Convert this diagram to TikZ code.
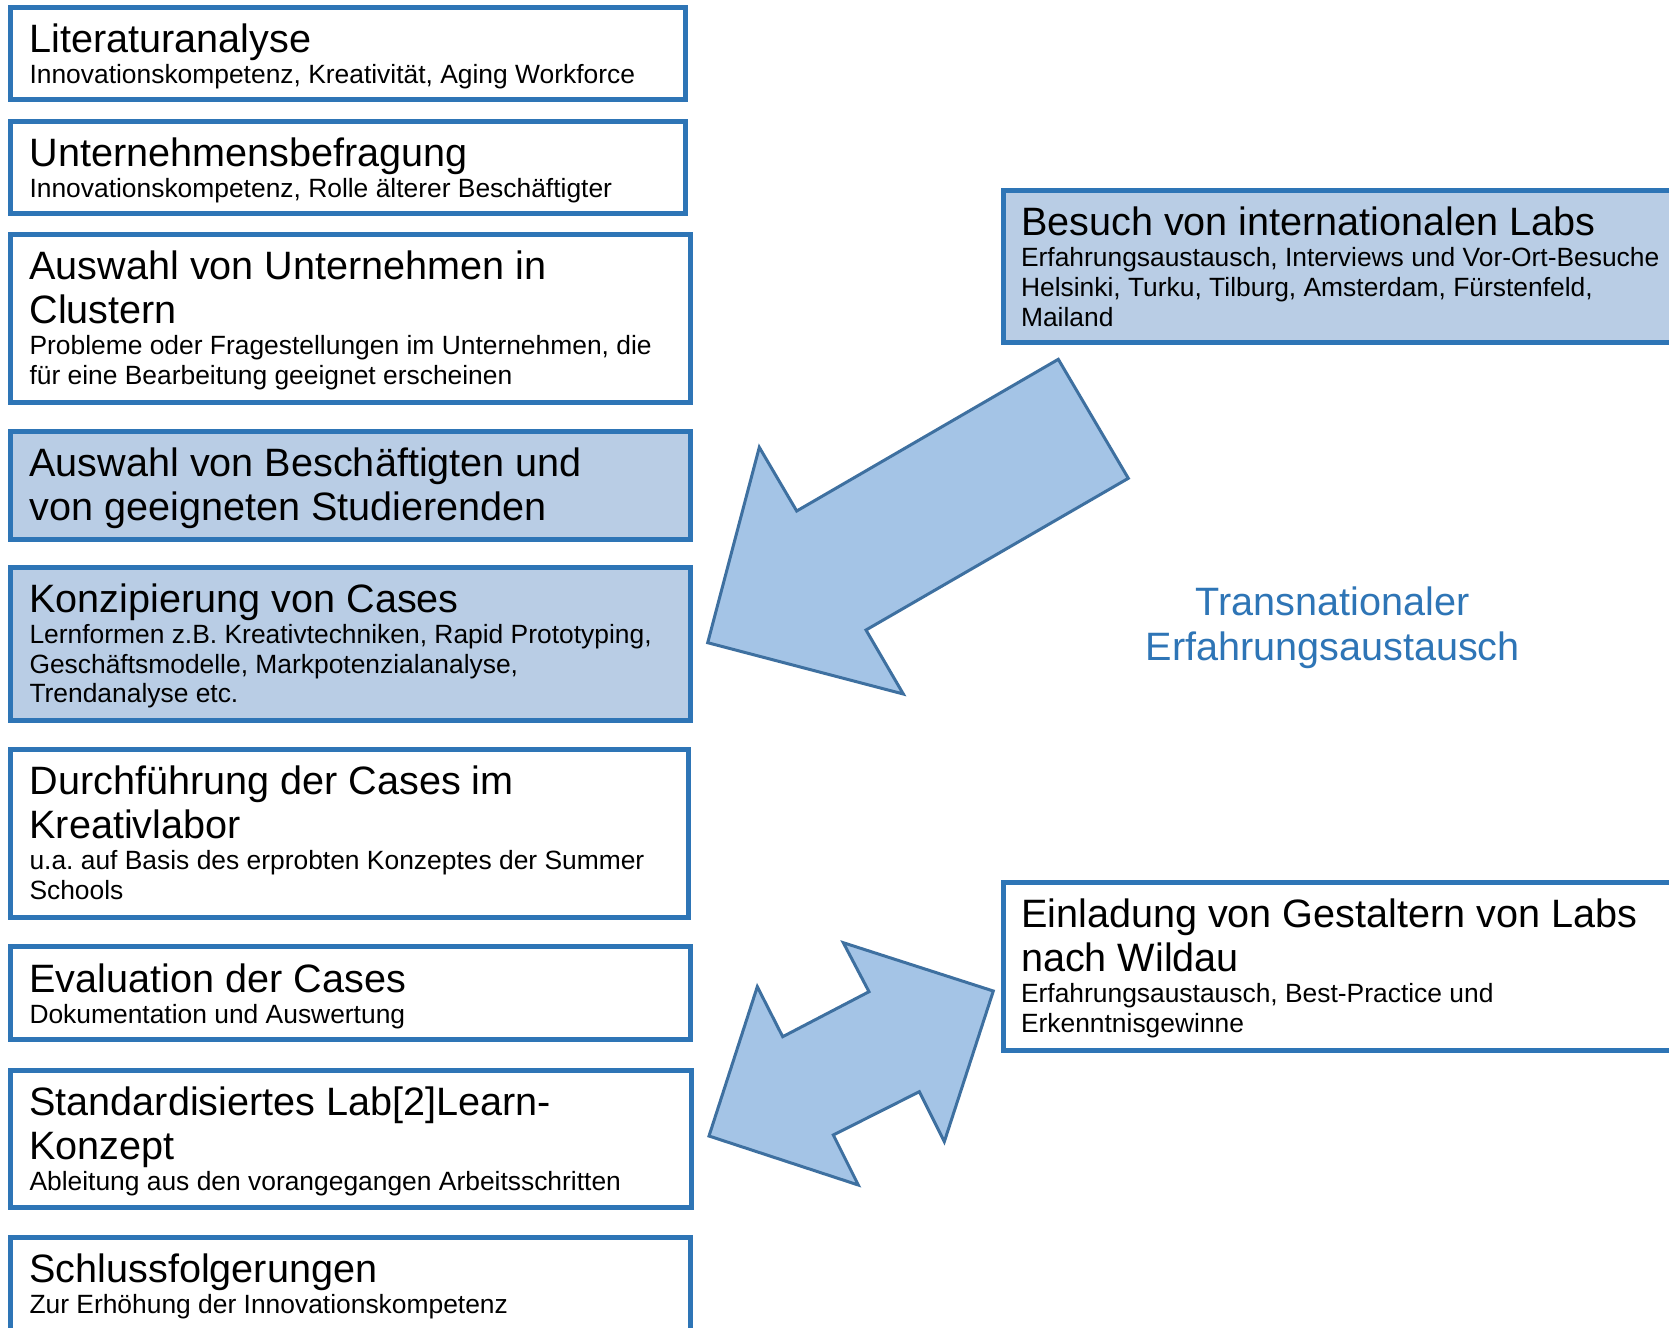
\documentclass[tikz,border=0pt]{standalone}
\usepackage{fontspec}
\setmainfont{Liberation Sans}
\frenchspacing
\usetikzlibrary{calc}
\definecolor{bord}{RGB}{46,117,182}
\definecolor{lfill}{RGB}{185,205,229}
\definecolor{afill}{RGB}{164,196,230}
\definecolor{aline}{RGB}{62,112,160}
\definecolor{ttl}{RGB}{46,117,182}
\newcommand{\mytitlefont}{\fontsize{39.6}{44}\selectfont\frenchspacing\spaceskip=0pt\xspaceskip=0pt\relax}
\newcommand{\mysubfont}{\fontsize{26.4}{29.6}\selectfont\frenchspacing\spaceskip=0pt\xspaceskip=0pt\relax}
\newcommand{\boxtitle}[1]{{\mytitlefont\rule{0pt}{30pt}#1\par}}
\newcommand{\boxsub}[1]{\vspace{1.4pt}{\mysubfont #1\par}}
\tikzset{
  box/.style={draw=bord, line width=5pt, fill=white, anchor=north west, inner sep=0pt, outer sep=0pt},
  filledbox/.style={box, fill=lfill},
  boxtext/.style={anchor=north west, inner sep=0pt, outer sep=0pt, text width=670pt, align=left},
  rboxtext/.style={boxtext, text width=700pt},
  bigarrow/.style={draw=aline, line width=3pt, fill=afill, line join=miter},
}
\begin{document}
\begin{tikzpicture}[x=1pt, y=-1pt]
\path[use as bounding box, clip] (0,0) rectangle (1669,1327);
\fill[white] (0,0) rectangle (1669,1327);

% left column boxes
\node[box, minimum width=675.1pt, minimum height=91.9pt] (b1) at (10,7.8) {};
\node[box, minimum width=675.1pt, minimum height=91.9pt] (b2) at (10,121.7) {};
\node[box, minimum width=680.5pt, minimum height=167.5pt] (b3) at (10,234.5) {};
\node[filledbox, minimum width=680.5pt, minimum height=107.8pt] (b4) at (10,431.5) {};
\node[filledbox, minimum width=680.5pt, minimum height=152.5pt] (b5) at (10,567.7) {};
\node[box, minimum width=678.3pt, minimum height=167.4pt] (b6) at (10,749.7) {};
\node[box, minimum width=680.5pt, minimum height=92.9pt] (b7) at (10,946.6) {};
\node[box, minimum width=681.5pt, minimum height=137.6pt] (b8) at (10,1070.1) {};
\node[box, minimum width=680.5pt, minimum height=130pt] (b9) at (10,1237.4) {};

% right boxes
\node[filledbox, minimum width=720pt, minimum height=151.5pt] (ra) at (1003,190.9) {};
\node[box, minimum width=720pt, minimum height=167.4pt] (rb) at (1003,882.8) {};

% texts
\node[boxtext] (t1) at ($(b1.north west)+(19.5,15)$) {\boxtitle{Literaturanalyse}\boxsub{Innovationskompetenz, Kreativität, Aging Workforce}};
\node[boxtext] (t2) at ($(b2.north west)+(19.5,15)$) {\boxtitle{Unternehmensbefragung}\boxsub{Innovationskompetenz, Rolle älterer Beschäftigter}};
\node[boxtext] (t3) at ($(b3.north west)+(19.5,15)$) {\boxtitle{Auswahl von Unternehmen in\\Clustern}\boxsub{Probleme oder Fragestellungen im Unternehmen, die\\für eine Bearbeitung geeignet erscheinen}};
\node[boxtext] (t4) at ($(b4.north west)+(19.5,15)$) {\boxtitle{Auswahl von Beschäftigten und\\von geeigneten Studierenden}};
\node[boxtext] (t5) at ($(b5.north west)+(19.5,15)$) {\boxtitle{Konzipierung von Cases}\boxsub{Lernformen z.B. Kreativtechniken, Rapid Prototyping,\\Geschäftsmodelle, Markpotenzialanalyse,\\Trendanalyse etc.}};
\node[boxtext] (t6) at ($(b6.north west)+(19.5,15)$) {\boxtitle{Durchführung der Cases im\\Kreativlabor}\boxsub{u.a. auf Basis des erprobten Konzeptes der Summer\\Schools}};
\node[boxtext] (t7) at ($(b7.north west)+(19.5,16)$) {\boxtitle{Evaluation der Cases}\boxsub{Dokumentation und Auswertung}};
\node[boxtext] (t8) at ($(b8.north west)+(19.5,15)$) {\boxtitle{Standardisiertes Lab[2]Learn-\\Konzept}\boxsub{Ableitung aus den vorangegangen Arbeitsschritten}};
\node[boxtext] (t9) at ($(b9.north west)+(19.5,15)$) {\boxtitle{Schlussfolgerungen}\boxsub{Zur Erhöhung der Innovationskompetenz}};
\node[rboxtext] (ta) at ($(ra.north west)+(18,15)$) {\boxtitle{Besuch von internationalen Labs}\boxsub{Erfahrungsaustausch, Interviews und Vor-Ort-Besuche\\Helsinki, Turku, Tilburg, Amsterdam, Fürstenfeld,\\Mailand}};
\node[rboxtext] (tb) at ($(rb.north west)+(18,15)$) {\boxtitle{Einladung von Gestaltern von Labs\\nach Wildau}\boxsub{Erfahrungsaustausch, Best-Practice und\\Erkenntnisgewinne}};

% transnational label
\node[anchor=north, inner sep=0pt, text width=600pt, align=center, text=ttl, font=\fontsize{39.6}{45}\selectfont] (tn) at (1332.7,585) {\rule{0pt}{30pt}Transnationaler\\Erfahrungsaustausch};

% arrows
\draw[bigarrow] (1058.3,359.3) -- (1128.3,478.3) -- (866,630) -- (903.3,694) -- (707.7,642.7) -- (759.3,447.3) -- (796.7,511) -- cycle;
\draw[bigarrow] (843.3,942.7) -- (993.3,991) -- (944.3,1141.7) -- (919.3,1091.7) -- (833.3,1135) -- (858.3,1185) -- (709,1136) -- (757.3,986.7) -- (782.7,1036.7) -- (869,991.7) -- cycle;
\end{tikzpicture}
\end{document}
